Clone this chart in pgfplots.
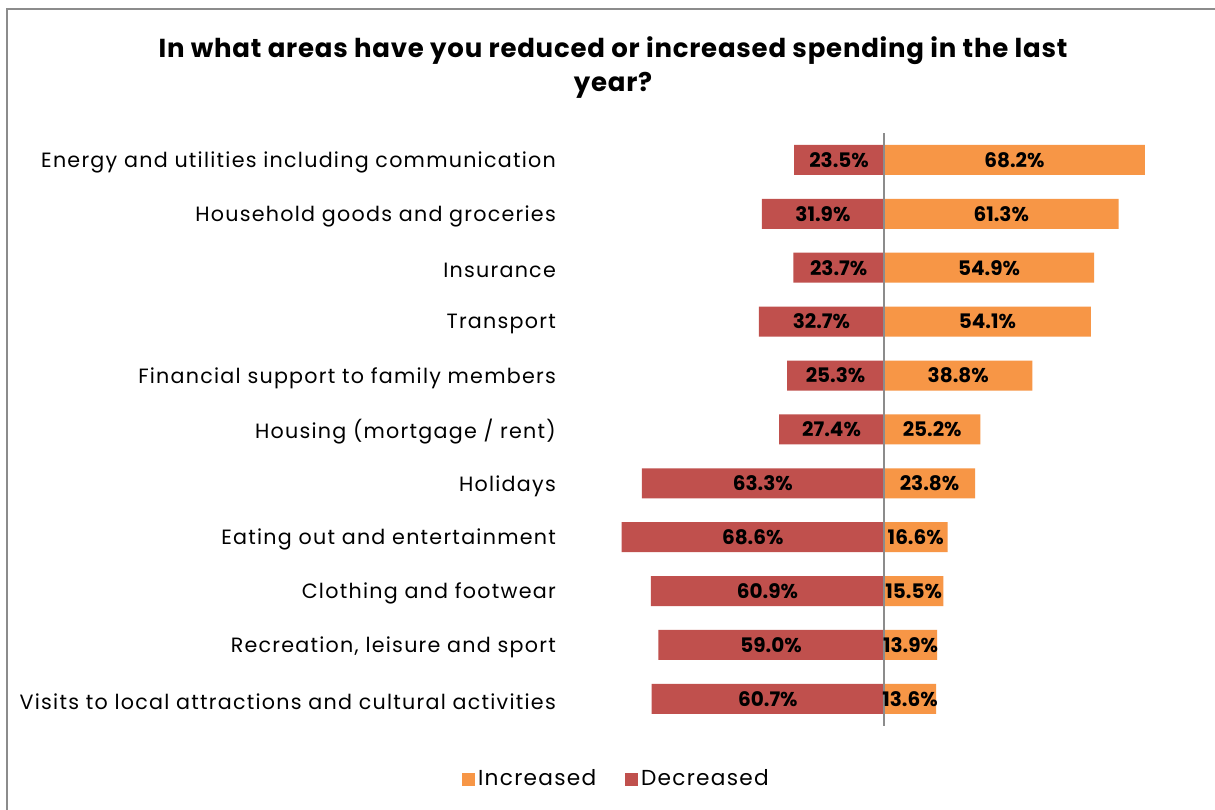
\documentclass[border=0pt]{standalone}
\usepackage{pgfplots}
\pgfplotsset{compat=1.18}
\usepackage{pgfplotstable}
\usepackage{fontspec}
\setmainfont{Poppins}
\newfontfamily\labfont[LetterSpace=6.0]{Poppins}
\newfontfamily\titfont[LetterSpace=3.0]{Poppins}
\definecolor{incC}{HTML}{F79646}
\definecolor{decC}{HTML}{C0504D}
\definecolor{frameC}{HTML}{8C8C8C}
\pgfplotstableread{
row inc dec
1 68.2 23.5
2 61.3 31.9
3 54.9 23.7
4 54.1 32.7
5 38.8 25.3
6 25.2 27.4
7 23.8 63.3
8 16.6 68.6
9 15.5 60.9
10 13.9 59.0
11 13.6 60.7
}\datatable
\begin{document}
\begin{tikzpicture}
\useasboundingbox (0,0) rectangle (729pt,-486pt);
\fill[white] (0,0) rectangle (729pt,-486pt);
\draw[frameC, line width=1.3pt] (4.2pt,-490pt) -- (4.2pt,-5.4pt) -- (735pt,-5.4pt);
\node[align=center, font=\titfont\fontsize{15.6pt}{20.4pt}\selectfont\bfseries] at (367.8pt,-40.8pt)
  {In what areas have you reduced or increased spending in the last\\year?};
\begin{axis}[
  at={(369.7pt,-79.8pt)}, anchor=north west,
  scale only axis, width=321.4pt, height=355.7pt,
  xmin=-70, xmax=70, ymin=0.5, ymax=11.5,
  y dir=reverse,
  axis line style={draw=none},
  xtick=\empty,
  ytick={1,...,11},
  yticklabels={Energy and utilities including communication,
    Household goods and groceries, Insurance, Transport,
    Financial support to family members, Housing (mortgage / rent),
    Holidays, Eating out and entertainment, Clothing and footwear,
    {Recreation, leisure and sport},
    Visits to local attractions and cultural activities},
  ytick style={draw=none},
  yticklabel style={font=\labfont\fontsize{12.4pt}{14pt}\selectfont, anchor=east, inner sep=0pt, xshift=-36pt, yshift=-1.5pt},
  /pgf/number format/assume math mode=true,
  legend columns=2,
  legend style={draw=none, at={(0.0015,-0.09)}, anchor=center,
    font=\labfont\fontsize{13pt}{15pt}\selectfont,
    /tikz/every even column/.append style={column sep=15pt}},
  legend image code/.code={\fill[#1] (0pt,-3.9pt) rectangle (7.8pt,3.9pt);},
  bar width=18pt,
]
\addplot[xbar, fill=incC, draw=none, bar shift=0pt] table[x=inc, y=row] {\datatable};
\addlegendentry{Increased}
\addplot[xbar, fill=decC, draw=none, bar shift=0pt] table[x expr=-\thisrow{dec}, y=row] {\datatable};
\addlegendentry{Decreased}
\draw[frameC, line width=1.2pt] (axis cs:0,0.5) -- (axis cs:0,11.5);
\addplot[draw=none, mark=none, forget plot, point meta=\thisrow{inc},
  nodes near coords={\pgfmathprintnumber[fixed, fixed zerofill, precision=1]{\pgfplotspointmeta}\%},
  every node near coord/.style={anchor=center, font=\fontsize{12pt}{13pt}\selectfont\bfseries, inner sep=0pt}]
  table[x expr=\thisrow{inc}/2, y=row] {\datatable};
\addplot[draw=none, mark=none, forget plot, point meta=\thisrow{dec},
  nodes near coords={\pgfmathprintnumber[fixed, fixed zerofill, precision=1]{\pgfplotspointmeta}\%},
  every node near coord/.style={anchor=center, font=\fontsize{12pt}{13pt}\selectfont\bfseries, inner sep=0pt}]
  table[x expr=-\thisrow{dec}/2, y=row] {\datatable};
\end{axis}
\end{tikzpicture}
\end{document}
